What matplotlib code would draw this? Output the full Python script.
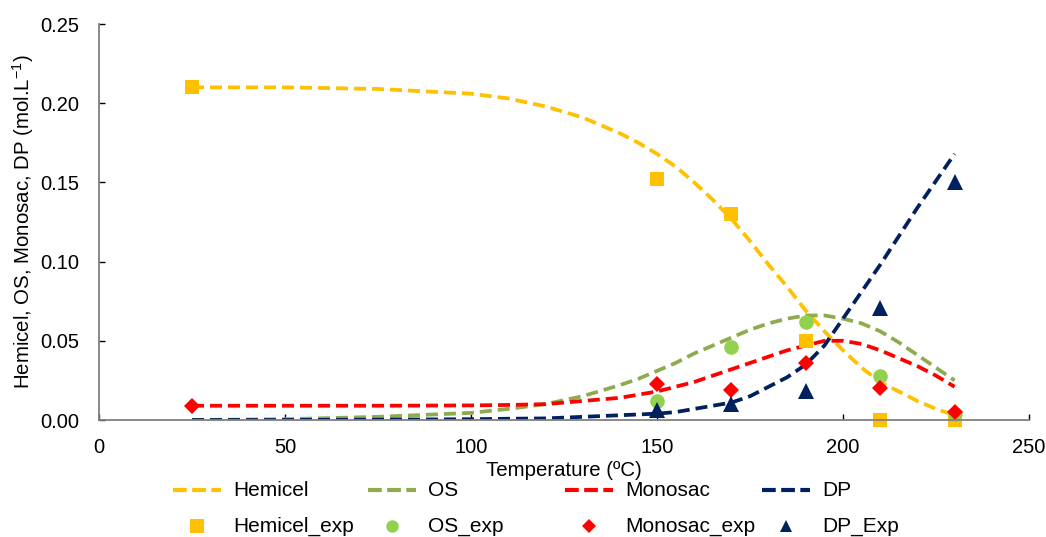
import matplotlib
matplotlib.use("Agg")
import matplotlib.pyplot as plt
from matplotlib.lines import Line2D

plt.rcParams['font.family'] = ['Liberation Sans', 'DejaVu Sans']
plt.rcParams['mathtext.fontset'] = 'custom'
plt.rcParams['mathtext.rm'] = 'Liberation Sans'
plt.rcParams['mathtext.it'] = 'Liberation Sans:italic'

# Model curves (temperature in ºC, concentration in mol/L)
model_T = [25, 50, 75, 100, 110, 120, 130, 140, 145, 150, 155, 160, 165, 170, 175,
           180, 185, 190, 195, 200, 205, 210, 215, 220, 225, 230]
hemicel_model = [0.210, 0.210, 0.209, 0.206, 0.203, 0.198, 0.191, 0.181, 0.175, 0.168,
                 0.160, 0.150, 0.139, 0.127, 0.113, 0.098, 0.084, 0.069, 0.056, 0.044,
                 0.033, 0.024, 0.018, 0.012, 0.007, 0.003]
os_model = [0.000, 0.0005, 0.002, 0.0045, 0.007, 0.010, 0.015, 0.022, 0.026, 0.031,
            0.036, 0.042, 0.047, 0.052, 0.057, 0.061, 0.064, 0.066, 0.066, 0.064,
            0.061, 0.056, 0.049, 0.041, 0.033, 0.025]
monosac_model = [0.009, 0.009, 0.009, 0.0092, 0.0095, 0.010, 0.012, 0.014, 0.016, 0.018,
                 0.021, 0.024, 0.028, 0.032, 0.036, 0.040, 0.044, 0.047, 0.050, 0.050,
                 0.048, 0.044, 0.039, 0.034, 0.028, 0.021]
dp_model = [0.000, 0.000, 0.0002, 0.0005, 0.0008, 0.001, 0.002, 0.003, 0.0035, 0.004,
            0.005, 0.007, 0.009, 0.011, 0.015, 0.021, 0.027, 0.035, 0.047, 0.064,
            0.081, 0.098, 0.116, 0.134, 0.151, 0.168]

# Experimental points
hemicel_T = [25, 150, 170, 190, 210, 230]
hemicel_exp = [0.210, 0.152, 0.130, 0.050, 0.000, 0.000]
os_T = [150, 170, 190, 210, 230]
os_exp = [0.012, 0.046, 0.062, 0.028, 0.004]
monosac_T = [25, 150, 170, 190, 210, 230]
monosac_exp = [0.009, 0.023, 0.019, 0.036, 0.020, 0.005]
dp_T = [150, 170, 190, 210, 230]
dp_exp = [0.006, 0.010, 0.018, 0.071, 0.150]

x_ticks = [0, 50, 100, 150, 200, 250]
y_ticks = [0.00, 0.05, 0.10, 0.15, 0.20, 0.25]

c_hemi = '#FFC000'
c_os_line = '#8FAB4E'
c_os_pt = '#92D050'
c_mono = '#FF0000'
c_dp = '#002060'

W, H = 1046, 537
fig = plt.figure(figsize=(W / 100, H / 100), dpi=100)
ax = fig.add_axes([99 / W, 1 - 420 / H, (1029 - 99) / W, (420 - 24) / H])

dash = (0, (3.2, 1.6))
lw = 2.7
ax.plot(model_T, hemicel_model, color=c_hemi, lw=lw, linestyle=dash)
ax.plot(model_T, os_model, color=c_os_line, lw=lw, linestyle=dash)
ax.plot(model_T, monosac_model, color=c_mono, lw=lw, linestyle=dash)
ax.plot(model_T, dp_model, color=c_dp, lw=lw, linestyle=dash)

ax.plot(hemicel_T, hemicel_exp, 's', color=c_hemi, ms=10.5, mew=0, clip_on=False)
ax.plot(os_T, os_exp, 'o', color=c_os_pt, ms=10.5, mew=0, clip_on=False)
ax.plot(monosac_T, monosac_exp, 'D', color=c_mono, ms=8.5, mew=0, clip_on=False)
ax.plot(dp_T, dp_exp, '^', color=c_dp, ms=11, mew=0, clip_on=False)

ax.set_xlim(0, 250)
ax.set_ylim(0, 0.25)
ax.set_xticks(x_ticks)
ax.set_yticks(y_ticks)
ax.set_yticklabels([f'{v:.2f}' for v in y_ticks])

for s in ['top', 'right']:
    ax.spines[s].set_visible(False)
for s in ['left', 'bottom']:
    ax.spines[s].set_color('#808080')
    ax.spines[s].set_linewidth(1.3)

ax.tick_params(axis='x', direction='in', length=4.5, width=1, color='black',
               labelsize=14.5, pad=13)
ax.tick_params(axis='y', direction='in', length=4.5, width=1, color='black',
               labelsize=14.5, pad=14)

ax.set_xlabel('Temperature (ºC)', fontsize=14.7, labelpad=3)
ax.set_ylabel('Hemicel, OS, Monosac, DP (mol.L$^{\\mathrm{-1}}$)', fontsize=14.7, labelpad=3.5)

# Legend laid out in two rows of four fixed-width columns
legend_cols = [
    ('Hemicel', c_hemi, 'Hemicel_exp', 's', c_hemi, 9.5),
    ('OS', c_os_line, 'OS_exp', 'o', c_os_pt, 9.0),
    ('Monosac', c_mono, 'Monosac_exp', 'D', c_mono, 7.0),
    ('DP', c_dp, 'DP_Exp', '^', c_dp, 9.0),
]
col_x = [173, 368, 565, 762]
row_y = [490, 526]
line_len = 48
for x0, (lab_l, col_l, lab_m, mk, col_m, ms) in zip(col_x, legend_cols):
    fy1 = 1 - row_y[0] / H
    fy2 = 1 - row_y[1] / H
    fig.add_artist(Line2D([x0 / W, (x0 + line_len) / W], [fy1, fy1],
                          transform=fig.transFigure, color=col_l, lw=3.0,
                          linestyle=(0, (3.3, 1.3))))
    fig.add_artist(Line2D([(x0 + line_len / 2) / W], [fy2], transform=fig.transFigure,
                          marker=mk, color=col_m, ms=ms, mew=0, linestyle='none'))
    tx = (x0 + line_len + 12) / W
    fig.text(tx, fy1, lab_l, fontsize=15, va='center', ha='left')
    fig.text(tx, fy2, lab_m, fontsize=15, va='center', ha='left')

fig.savefig('out.png', dpi=100)
